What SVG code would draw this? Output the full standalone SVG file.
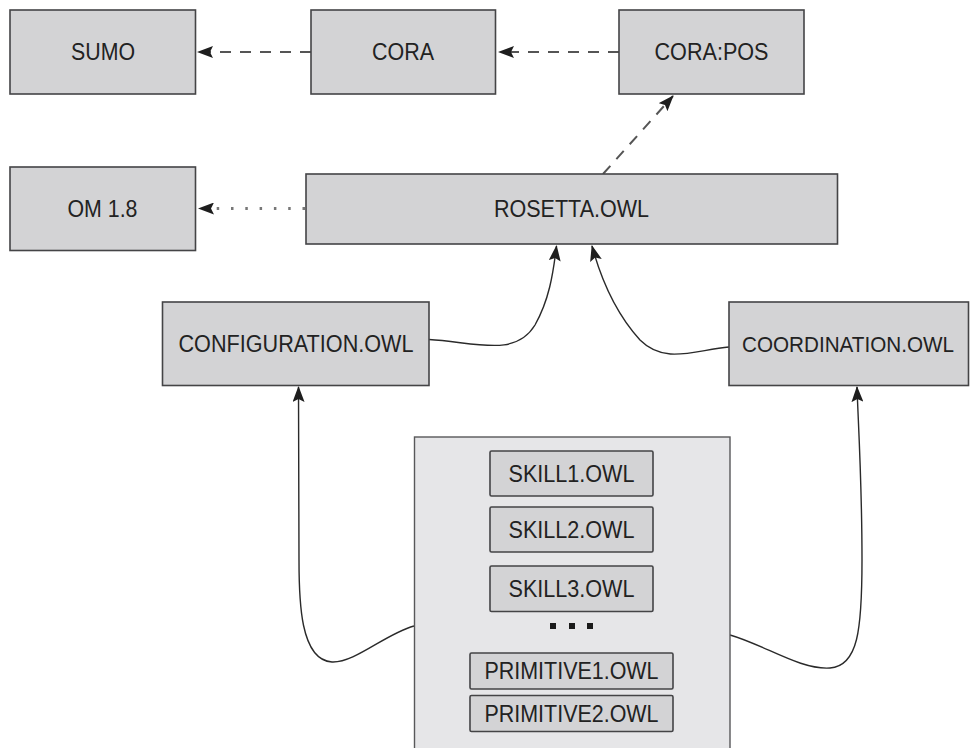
<svg xmlns="http://www.w3.org/2000/svg" width="971" height="748" viewBox="0 0 971 748">
  <style>
    .box { fill: #d3d3d5; stroke: #444446; stroke-width: 1.6; }
    .group { fill: #e6e6e8; stroke: #58585a; stroke-width: 1.4; }
    .label { font-family: "Liberation Sans", Arial, sans-serif; font-size: 23px; fill: #222; text-anchor: middle; }
    .link { fill: none; stroke: #2a2a2a; stroke-width: 1.4; }
    .dash { fill: none; stroke: #555; stroke-width: 2; stroke-dasharray: 11 9; }
    .dot { fill: none; stroke: #777; stroke-width: 3; stroke-dasharray: 2.5 11.8; }
    .ell { fill: #1a1a1a; }
  </style>
  <defs>
    <marker id="head" viewBox="0 0 16 12" refX="15" refY="6" markerWidth="16" markerHeight="12" markerUnits="userSpaceOnUse" orient="auto">
      <path d="M0,0 L16,6 L0,12 L3,6 Z" fill="#1e1e1e"/>
    </marker>
  </defs>

  <rect width="971" height="748" fill="#ffffff"/>

  <!-- connectors -->
  <g id="connectors">
    <path class="dash" d="M311,52 L198,52" marker-end="url(#head)"/>
    <path class="dash" d="M619,52 L499,52" marker-end="url(#head)"/>
    <path class="dash" d="M603,174 L673,96" marker-end="url(#head)"/>
    <path class="dot" d="M305,208.5 L199,208.5" marker-end="url(#head)"/>
    <path class="link" d="M429,339.5 C475,342 515,358 535,325 C549,300 553,275 556.5,246" marker-end="url(#head)"/>
    <path class="link" d="M729,347 C695,350 665,365 640,340 C620,318 604,290 592,246" marker-end="url(#head)"/>
    <path class="link" d="M414,626 C385,634 355,663 332,662 C300,660 299,600 299,560 L298.5,387" marker-end="url(#head)"/>
    <path class="link" d="M730,635 C765,645 800,670 830,668 C858,666 862,630 862,560 C862,480 858,420 857,387" marker-end="url(#head)"/>
  </g>

  <!-- nodes -->
  <g id="sumo">
    <rect class="box" x="10" y="10" width="185.5" height="84"/>
    <text class="label" x="103" y="60" textLength="64" lengthAdjust="spacingAndGlyphs">SUMO</text>
  </g>
  <g id="cora">
    <rect class="box" x="311" y="10" width="184.5" height="84"/>
    <text class="label" x="403" y="60" textLength="62" lengthAdjust="spacingAndGlyphs">CORA</text>
  </g>
  <g id="cora-pos">
    <rect class="box" x="619" y="10" width="185" height="84"/>
    <text class="label" x="711.5" y="60" textLength="114" lengthAdjust="spacingAndGlyphs">CORA:POS</text>
  </g>
  <g id="om18">
    <rect class="box" x="10" y="167" width="185.5" height="83.5"/>
    <text class="label" x="102.5" y="216.5" textLength="70" lengthAdjust="spacingAndGlyphs">OM 1.8</text>
  </g>
  <g id="rosetta">
    <rect class="box" x="306" y="174" width="531.5" height="70"/>
    <text class="label" x="571.5" y="217" textLength="155" lengthAdjust="spacingAndGlyphs">ROSETTA.OWL</text>
  </g>
  <g id="configuration">
    <rect class="box" x="162.5" y="302" width="266.5" height="83.5"/>
    <text class="label" x="296" y="351.5" textLength="235" lengthAdjust="spacingAndGlyphs">CONFIGURATION.OWL</text>
  </g>
  <g id="coordination">
    <rect class="box" x="729" y="302" width="239.5" height="83.5"/>
    <text class="label" x="848" y="351.5" textLength="212" lengthAdjust="spacingAndGlyphs" style="font-size:22px">COORDINATION.OWL</text>
  </g>
  <g id="skills">
    <rect class="group" x="414.5" y="437" width="315.5" height="330"/>
    <g id="skill1">
      <rect class="box" x="490" y="451" width="163" height="45" rx="1.5"/>
      <text class="label" x="571.5" y="481.5" textLength="126" lengthAdjust="spacingAndGlyphs">SKILL1.OWL</text>
    </g>
    <g id="skill2">
      <rect class="box" x="490" y="507" width="163" height="45" rx="1.5"/>
      <text class="label" x="571.5" y="537.5" textLength="126" lengthAdjust="spacingAndGlyphs">SKILL2.OWL</text>
    </g>
    <g id="skill3">
      <rect class="box" x="490" y="566" width="163" height="45.5" rx="1.5"/>
      <text class="label" x="571.5" y="597" textLength="126" lengthAdjust="spacingAndGlyphs">SKILL3.OWL</text>
    </g>
    <g id="ellipsis">
      <rect class="ell" x="550" y="623" width="6" height="6"/>
      <rect class="ell" x="569" y="623" width="6" height="6"/>
      <rect class="ell" x="587" y="623" width="6" height="6"/>
    </g>
    <g id="primitive1">
      <rect class="box" x="470" y="653" width="203" height="36" rx="1.5"/>
      <text class="label" x="571.5" y="679" textLength="174" lengthAdjust="spacingAndGlyphs">PRIMITIVE1.OWL</text>
    </g>
    <g id="primitive2">
      <rect class="box" x="470" y="695.5" width="203" height="36" rx="1.5"/>
      <text class="label" x="571.5" y="721.5" textLength="174" lengthAdjust="spacingAndGlyphs">PRIMITIVE2.OWL</text>
    </g>
  </g>
</svg>
